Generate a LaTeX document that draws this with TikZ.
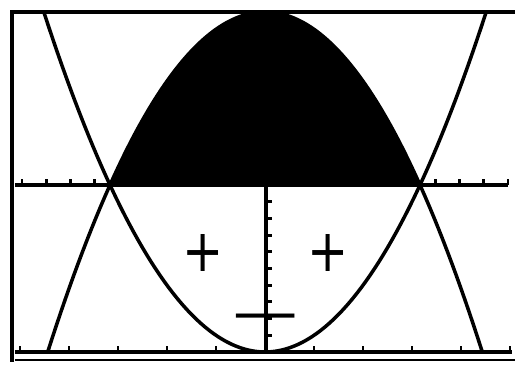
\documentclass[tikz,border=0pt]{standalone}
\usepackage{fontspec}
\newfontfamily\signfont{DejaVu Sans}
\usetikzlibrary{positioning}
\begin{document}
\begin{tikzpicture}[
        x=0.02cm, y=-0.02cm,
        axis/.style={line width=2.3pt},
        curve/.style={line width=2pt, line join=round},
        tick/.style={line width=1.7pt},
        sign/.style={font=\signfont\fontsize{28}{28}\selectfont, inner sep=0pt}
    ]
        \useasboundingbox (0,0) rectangle (515,365);

        % Shaded region
        \fill[black] (110,185) -- plot[domain=110:420, samples=60] (\x, {12+0.72*((\x-265)/10)^2}) -- cycle;

        \draw[axis] (12,10) -- (12,362);
        \draw[axis] (10,12) -- (515,12);
        \draw[axis] (15,352) -- (512,352);
        \draw[line width=1.2pt] (15,360) -- (515,360);
        \draw[axis] (15,185) -- (508,185);
        \draw[axis] (266,185) -- (266,352);

        \foreach \k in {7,...,10} {
            \draw[tick] ({265-24.3*\k},185) -- ++(0,-6);
            \draw[tick] ({265+24.3*\k},185) -- ++(0,-6);
        }
        \foreach \k in {1,...,9}
            \draw[tick] (266,{185+16.7*\k}) -- ++(6,0);
        \foreach \k in {1,...,5} {
            \draw[tick] ({265-49*\k},352) -- ++(0,-6);
            \draw[tick] ({265+49*\k},352) -- ++(0,-6);
        }

        \draw[curve] plot[domain=47.7:482.3, samples=100] (\x, {12+0.72*((\x-265)/10)^2});
        \draw[curve] plot[domain=43.8:486.2, samples=100] (\x, {352-0.695*((\x-265)/10)^2});

        % Signs
        \node[sign, yscale=1.2] (plusL) at (203,253) {+};
        \node[sign, yscale=1.2] (plusR) at (328,253) {+};
        \node[sign, xscale=1.9] (minus) at (266,323) {−};
    \end{tikzpicture}
\end{document}
